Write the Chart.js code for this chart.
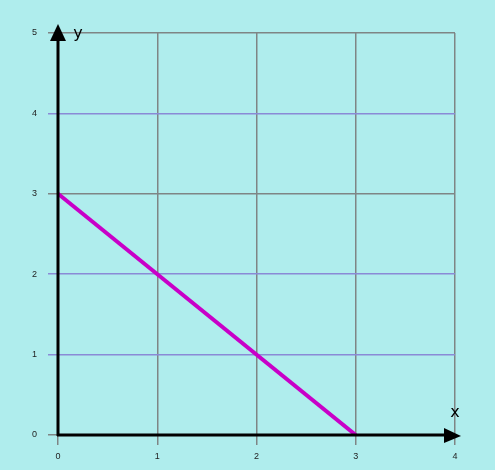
<!DOCTYPE html>
<html>
<head>
<meta charset="utf-8">
<script src="https://cdn.jsdelivr.net/npm/chart.js@4"></script>
<style>
    html, body { margin: 0; padding: 0; background: #afeded; }
    #wrap { width: 495px; height: 470px; }
</style>
</head>
<body>
<div id="wrap"><canvas id="mainChart" width="495" height="470"></canvas></div>
<script>
// Datos de la recta
const xValues = [0, 3];
const yValues = [3, 0];
const xTicks = [0, 1, 2, 3, 4];
const yTicks = [0, 1, 2, 3, 4, 5];

const points = xValues.map((x, i) => ({ x: x, y: yValues[i] }));

// Fondo, ejes con flecha y etiquetas x / y
const axesPlugin = {
    id: 'axesArrows',
    beforeDraw(chart) {
        const c = chart.ctx;
        c.save();
        c.fillStyle = '#afeded';
        c.fillRect(0, 0, chart.width, chart.height);
        c.restore();
    },
    afterDatasetsDraw(chart) {
        const c = chart.ctx;
        const xs = chart.scales.x, ys = chart.scales.y;
        const x0 = xs.getPixelForValue(0), y0 = ys.getPixelForValue(0);
        const yTop = ys.getPixelForValue(5), xEnd = xs.getPixelForValue(4);
        c.save();
        c.strokeStyle = '#000';
        c.fillStyle = '#000';
        c.lineWidth = 3;
        c.beginPath();
        c.moveTo(x0, y0 + 1);
        c.lineTo(x0, yTop + 8);
        c.moveTo(x0 - 1, y0);
        c.lineTo(xEnd - 10, y0);
        c.stroke();
        // flecha eje y
        c.beginPath();
        c.moveTo(x0, yTop - 9);
        c.lineTo(x0 - 8, yTop + 8);
        c.lineTo(x0 + 8, yTop + 8);
        c.closePath();
        c.fill();
        // flecha eje x
        c.beginPath();
        c.moveTo(xEnd + 6, y0 + 1);
        c.lineTo(xEnd - 11, y0 - 7);
        c.lineTo(xEnd - 11, y0 + 8);
        c.closePath();
        c.fill();
        c.font = '16px "DejaVu Sans", sans-serif';
        c.textAlign = 'center';
        c.textBaseline = 'middle';
        c.fillText('y', x0 + 20, yTop + 1);
        c.fillText('x', xEnd, y0 - 22);
        c.restore();
    }
};

function gridColor(ctx) {
    const v = ctx.tick ? ctx.tick.value : 0;
    if (ctx.scale.axis === 'y' && (v === 1 || v === 2 || v === 4)) return '#8a8ad6';
    return '#7f8585';
}

new Chart(document.getElementById('mainChart'), {
    type: 'scatter',
    data: {
        datasets: [{
            data: points,
            showLine: true,
            borderColor: '#c800c8',
            borderWidth: 4,
            pointRadius: 0,
            tension: 0
        }]
    },
    options: {
        responsive: false,
        animation: false,
        layout: { padding: { left: 0, right: 40, top: 33, bottom: 0 } },
        plugins: { legend: { display: false }, tooltip: { enabled: false } },
        scales: {
            x: {
                type: 'linear',
                min: 0,
                max: 4,
                afterBuildTicks: s => { s.ticks = xTicks.map(v => ({ value: v })); },
                afterFit: s => { s.height = 35; },
                border: { display: false },
                grid: { color: gridColor, lineWidth: 1.5, tickLength: 10 },
                ticks: { color: '#222', padding: 6, font: { size: 9, family: 'Liberation Sans' } }
            },
            y: {
                type: 'linear',
                min: 0,
                max: 5,
                afterBuildTicks: s => { s.ticks = yTicks.map(v => ({ value: v })); },
                afterFit: s => { s.width = 58; },
                border: { display: false },
                grid: { color: gridColor, lineWidth: 1.5, tickLength: 10 },
                ticks: { color: '#222', padding: 11, font: { size: 9, family: 'Liberation Sans' } }
            }
        }
    },
    plugins: [axesPlugin]
});
</script>
</body>
</html>
